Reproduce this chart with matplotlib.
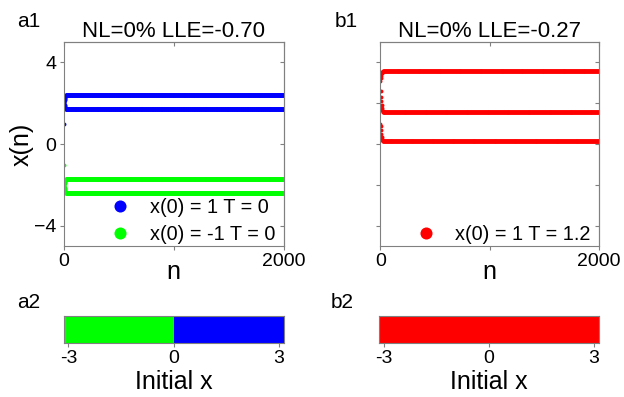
import numpy as np
import matplotlib
matplotlib.use("Agg")
import matplotlib.pyplot as plt

plt.rcParams['font.family'] = ['Liberation Sans', 'DejaVu Sans']

# ---- data ----
n_max = 2000

# a1: x(0)=1 and x(0)=-1, T=0 -> period-2 orbit after a short transient
blue_transient = [1.00, 2.04, 2.05, 2.02, 2.09, 1.98, 2.14, 1.93, 2.20, 1.87,
                  2.26, 1.81, 2.31, 1.77, 2.35, 1.74, 2.38, 1.72, 2.39, 1.71]
blue_cycle = [2.40, 1.71]
green_transient = [-1.00, -2.04, -2.05, -2.02, -2.09, -1.98, -2.14, -1.93, -2.20, -1.87,
                   -2.26, -1.81, -2.31, -1.77, -2.35, -1.74, -2.38, -1.72, -2.39, -1.71]
green_cycle = [-2.40, -1.71]

# b1: x(0)=1, T=1.2 -> period-3 orbit
red_transient = [1.00, 3.10, 2.60, 0.90, 3.25, 2.30, 0.70, 3.35, 2.10, 0.50,
                 3.42, 1.90, 0.35, 3.48, 1.75, 0.25, 3.52, 1.65, 0.18, 3.54,
                 1.60, 0.15, 3.55, 1.57, 0.14]
red_cycle = [3.56, 1.55, 0.13]

titles = ['NL=0% LLE=-0.70', 'NL=0% LLE=-0.27']

# a2 / b2: basins of attraction over initial x
basin_edges_a = [-np.pi, 0.0, np.pi]
basin_colors_a = ['#00ff00', '#0000ff']
basin_edges_b = [-np.pi, np.pi]
basin_colors_b = ['#ff0000']


def orbit(transient, cycle):
    reps = n_max // len(cycle) + 2
    x = np.concatenate([transient, np.tile(cycle, reps)])[:n_max + 1]
    return np.arange(len(x)), x


fig = plt.figure(figsize=(6.24, 3.97), dpi=100)
spine_c = '#808080'


def style(ax):
    for s in ax.spines.values():
        s.set_color(spine_c)
        s.set_linewidth(0.8)
    ax.tick_params(colors=spine_c, labelcolor='black', labelsize=14, length=3, width=0.8, pad=2)


def box_ticks(ax, xt, yt):
    # MATLAB-like box: ticks on top/right pointing inwards, no labels
    top = ax.secondary_xaxis('top')
    top.set_xticks(xt)
    top.tick_params(direction='in', labeltop=False, colors=spine_c, length=3, width=0.8)
    right = ax.secondary_yaxis('right')
    right.set_yticks(yt)
    right.tick_params(direction='in', labelright=False, colors=spine_c, length=3, width=0.8)
    for sec in (top, right):
        for s in sec.spines.values():
            s.set_color(spine_c)
            s.set_linewidth(0.8)


ax1 = fig.add_axes([0.1018, 0.380, 0.353, 0.514])
ax2 = fig.add_axes([0.609, 0.380, 0.351, 0.514])

for ax in (ax1, ax2):
    style(ax)
    ax.set_xlim(-3, n_max)
    ax.set_ylim(-5, 5)
    ax.set_xticks([0, 1000, 2000])
    ax.set_xticklabels(['0', '', '2000'])
    ax.set_xlabel('n', fontsize=18, labelpad=-7)

n, xb = orbit(blue_transient, blue_cycle)
ax1.plot(n, xb, 'o', ms=2.8, mew=0, color='#0000ff', label='x(0) = 1 T = 0')
n, xg = orbit(green_transient, green_cycle)
ax1.plot(n, xg, 'o', ms=2.8, mew=0, color='#00ff00', label='x(0) = -1 T = 0')
ax1.set_yticks([-4, 0, 4])
ax1.set_ylabel('x(n)', fontsize=18, labelpad=0)
ax1.set_title(titles[0], fontsize=16, pad=3)
box_ticks(ax1, [0, 1000, 2000], [-4, 0, 4])

n, xr = orbit(red_transient, red_cycle)
ax2.plot(n, xr, 'o', ms=2.8, mew=0, color='#ff0000', label='x(0) = 1 T = 1.2')
ax2.set_yticks([-4, -2, 0, 2, 4])
ax2.set_yticklabels([])
ax2.set_title(titles[1], fontsize=16, pad=3)
box_ticks(ax2, [0, 1000, 2000], [-4, -2, 0, 2, 4])

for ax in (ax1, ax2):
    ax.legend(loc='lower right', bbox_to_anchor=(0.962, 0.012), frameon=False,
              fontsize=14.3, markerscale=3.1,
              handlelength=1.3, handletextpad=0.85, labelspacing=0.4,
              borderpad=0.0, borderaxespad=0.0)

# basin bars
bx1 = fig.add_axes([0.1018, 0.136, 0.353, 0.068])
bx2 = fig.add_axes([0.607, 0.136, 0.353, 0.068])
for bx, edges, cols in ((bx1, basin_edges_a, basin_colors_a),
                        (bx2, basin_edges_b, basin_colors_b)):
    style(bx)
    lefts = np.array(edges[:-1])
    widths = np.diff(edges)
    bx.barh(0, widths, left=lefts, height=1, color=cols, align='center')
    bx.set_xlim(-np.pi, np.pi)
    bx.set_ylim(-0.5, 0.5)
    bx.set_yticks([])
    bx.set_xticks([-3, 0, 3])
    bx.set_xticklabels(['-3', '0', '3'])
    bx.set_xlabel('Initial x', fontsize=18, labelpad=2)

fig.text(0.027, 0.932, 'a1', fontsize=15)
fig.text(0.537, 0.932, 'b1', fontsize=15)
fig.text(0.027, 0.224, 'a2', fontsize=15)
fig.text(0.530, 0.224, 'b2', fontsize=15)

fig.savefig('out.png', dpi=100)
